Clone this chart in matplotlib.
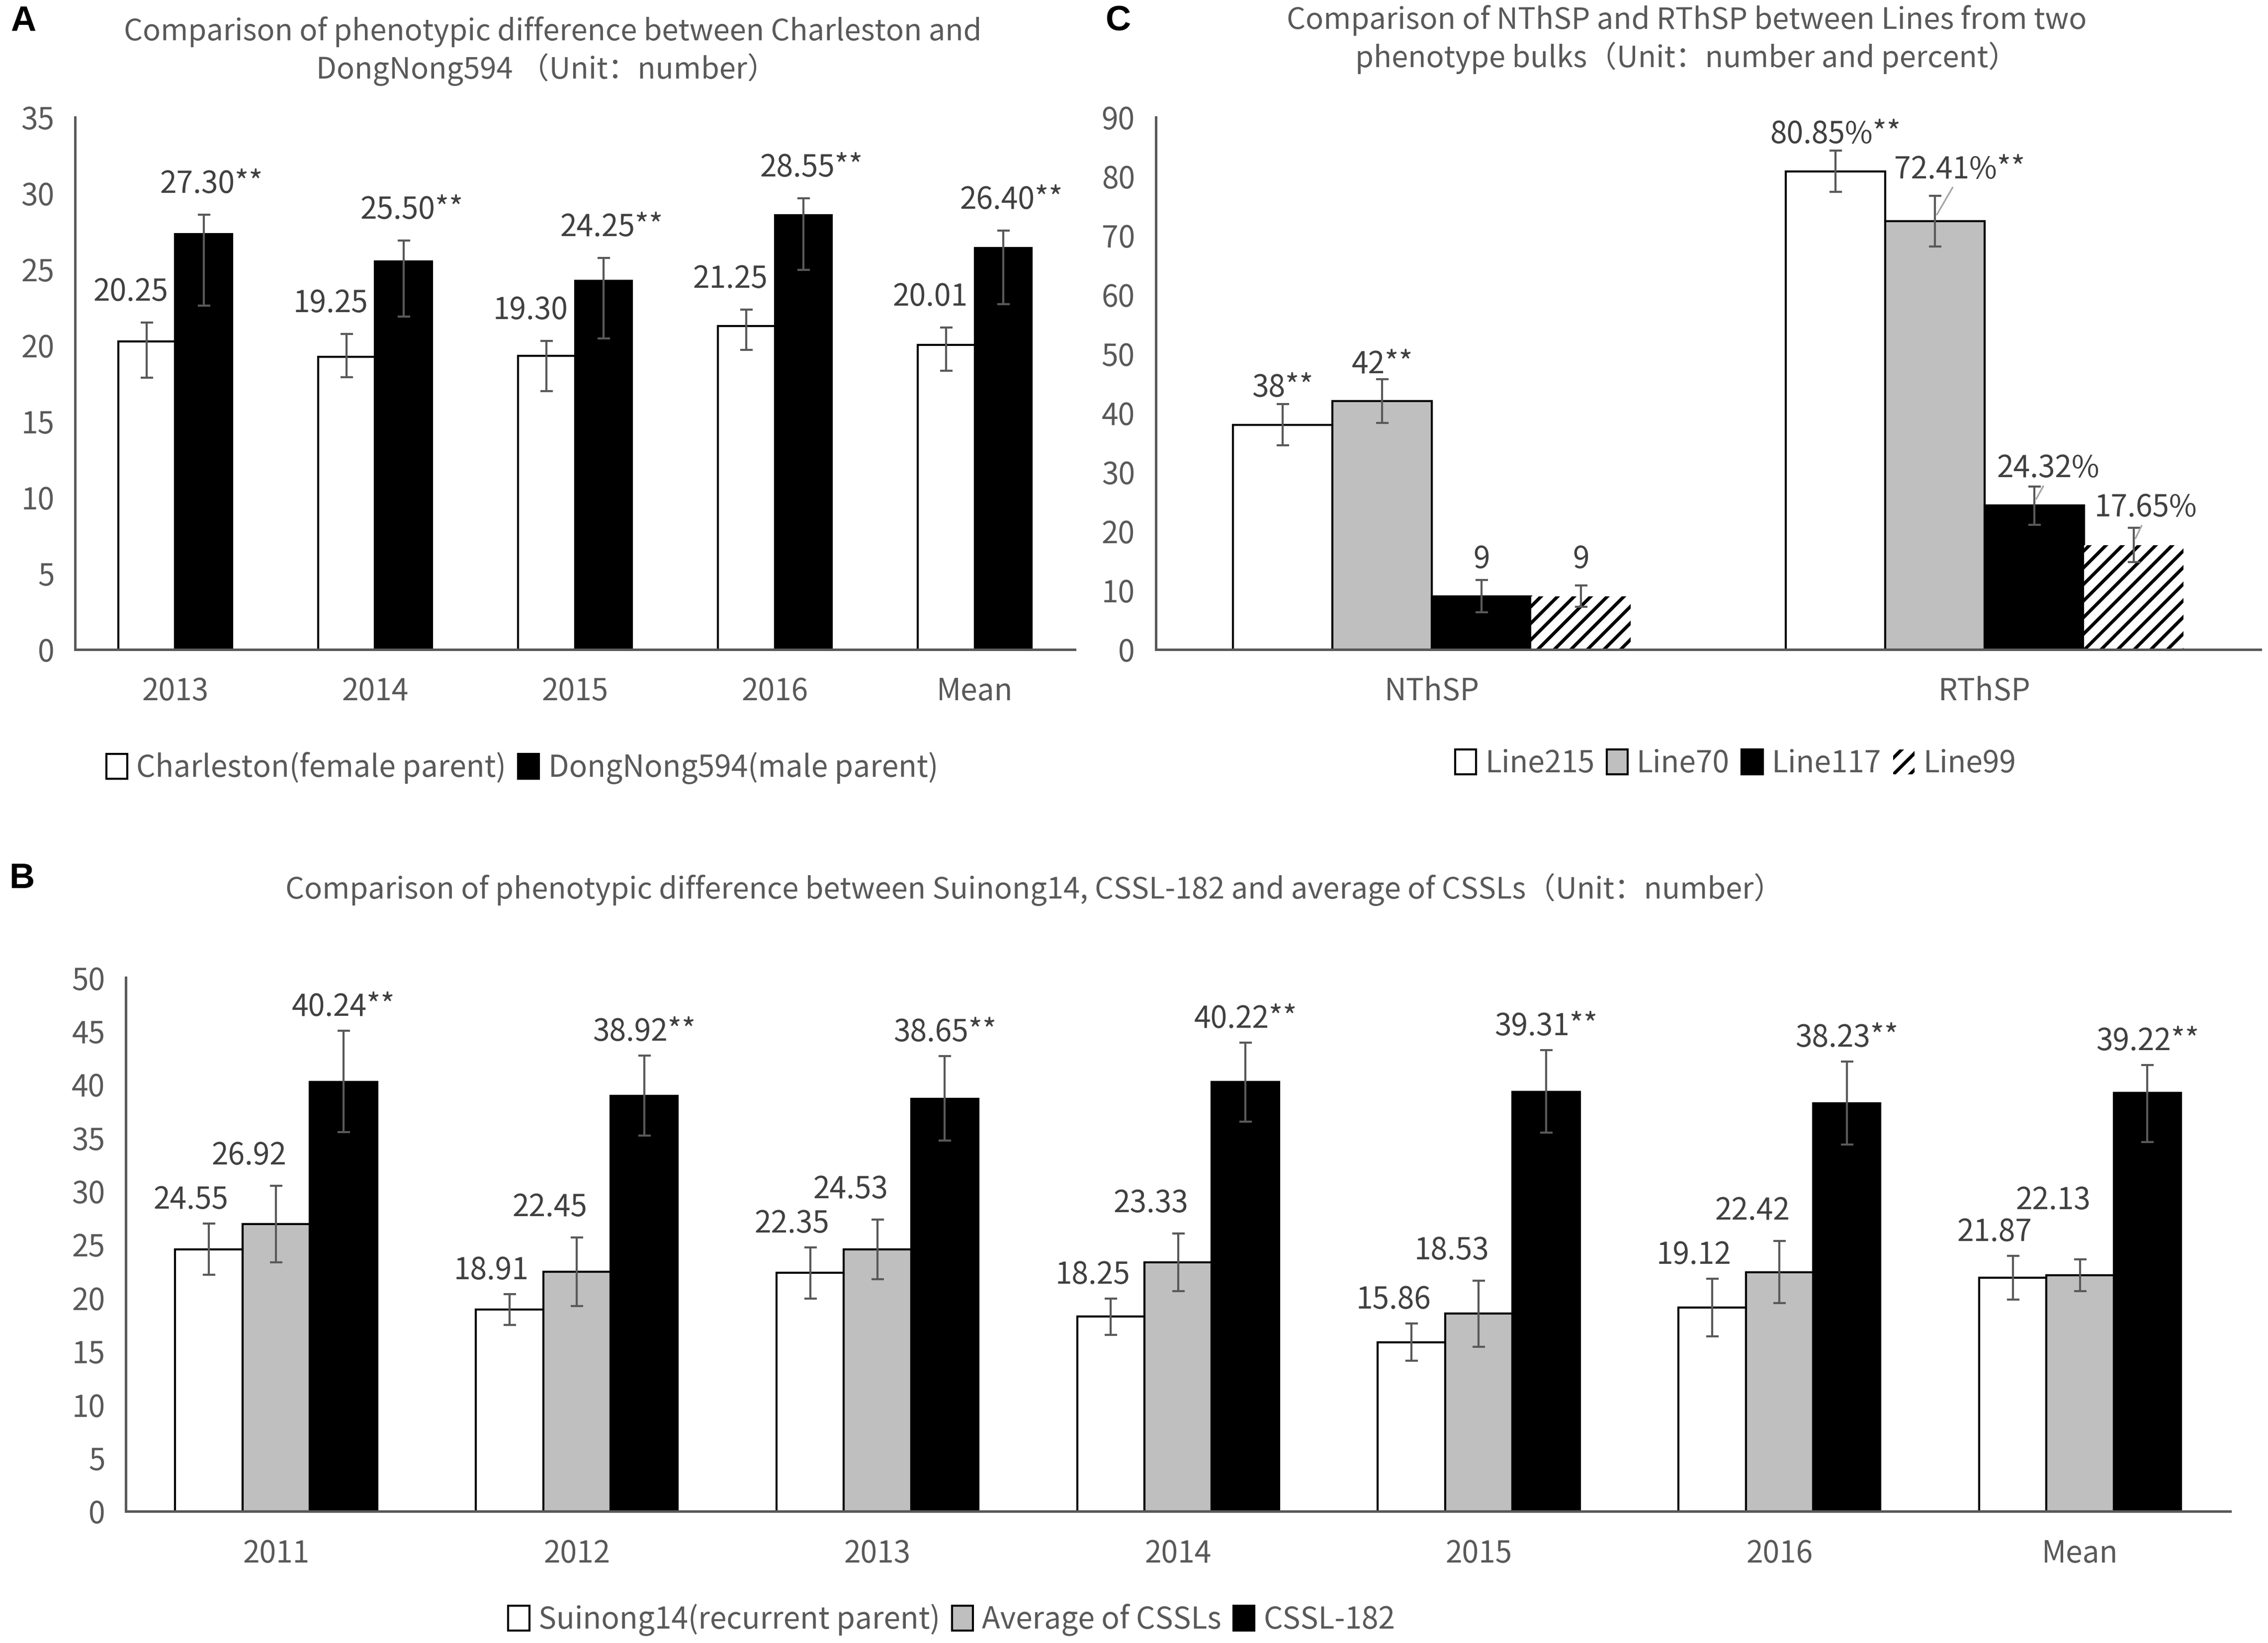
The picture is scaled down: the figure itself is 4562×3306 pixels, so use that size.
import numpy as np
import matplotlib.pyplot as plt

plt.rcParams['font.family'] = ['Noto Sans CJK SC', 'DejaVu Sans']
plt.rcParams['hatch.linewidth'] = 1.6

# ---------------- data ----------------
# panel A
a_years = ["2013", "2014", "2015", "2016", "Mean"]
a_charleston = [20.25, 19.25, 19.30, 21.25, 20.01]
a_charleston_lo = [2.4, 1.35, 2.3, 1.55, 1.7]
a_charleston_hi = [1.25, 1.5, 1.0, 1.1, 1.15]
a_dongnong = [27.30, 25.50, 24.25, 28.55, 26.40]
a_dongnong_lo = [4.7, 3.6, 3.8, 3.6, 3.7]
a_dongnong_hi = [1.3, 1.4, 1.5, 1.1, 1.15]
a_names = ["Charleston(female parent)", "DongNong594(male parent)"]

# panel C
c_traits = ["NThSP", "RThSP"]
c_lines = ["Line215", "Line70", "Line117", "Line99"]
c_line215 = [38, 80.85]
c_line70 = [42, 72.41]
c_line117 = [9, 24.32]
c_line99 = [9, 17.65]
c_line215_err = [3.5, 3.5]
c_line70_err = [3.7, 4.3]
c_line117_err = [2.7, 3.25]
c_line99_err = [1.8, 2.9]

# panel B
b_years = ["2011", "2012", "2013", "2014", "2015", "2016", "Mean"]
b_suinong = [24.55, 18.91, 22.35, 18.25, 15.86, 19.12, 21.87]
b_suinong_err = [2.4, 1.45, 2.4, 1.7, 1.75, 2.7, 2.05]
b_cssls = [26.92, 22.45, 24.53, 23.33, 18.53, 22.42, 22.13]
b_cssls_err = [3.6, 3.2, 2.8, 2.7, 3.1, 2.9, 1.5]
b_cssl182 = [40.24, 38.92, 38.65, 40.22, 39.31, 38.23, 39.22]
b_cssl182_lo = [4.7, 3.7, 3.9, 3.7, 3.8, 3.85, 4.6]
b_cssl182_hi = [4.8, 3.8, 4.0, 3.7, 3.9, 3.9, 2.6]
b_names = ["Suinong14(recurrent parent)", "Average of CSSLs", "CSSL-182"]

# ---------------- styling ----------------
TXT = '#595959'
LBL = '#404040'
FS = 14.5
GREY = '#bfbfbf'
W, H = 1568, 1136  # layout grid (reference pixels)


def box(left, right, top, bottom):
    return [left / W, 1 - bottom / H, (right - left) / W, (bottom - top) / H]


def style_axis(ax, cats, ymax, step):
    ax.set_xlim(-0.5, len(cats) - 0.5)
    ax.set_ylim(0, ymax)
    ax.set_yticks(np.arange(0, ymax + 1, step))
    ax.set_xticks(range(len(cats)))
    ax.set_xticklabels(cats)
    for s in ['top', 'right']:
        ax.spines[s].set_visible(False)
    for s in ['left', 'bottom']:
        ax.spines[s].set_color(TXT)
        ax.spines[s].set_linewidth(1.2)
    ax.spines['bottom'].set_zorder(5)
    ax.tick_params(length=0, labelsize=FS, colors=TXT)
    ax.tick_params(axis='y', pad=10)
    ax.tick_params(axis='x', pad=13)


def bars(ax, x, vals, w, lo, hi, face, label, hatch=None, lw=1.0):
    ax.bar(x, vals, w, color=face, edgecolor='black', linewidth=lw,
           hatch=hatch, label=label, zorder=2,
           yerr=[lo, hi],
           error_kw=dict(ecolor=TXT, elinewidth=1.0, capsize=3, capthick=1.0, zorder=3))


def value_label(ax, x, y, s):
    ax.text(x, y, s, ha='center', va='center', fontsize=FS, color=LBL, zorder=4)


fig = plt.figure(figsize=(4562 / 300, 3306 / 300), dpi=300)

# ---------------- panel A ----------------
axA = fig.add_axes(box(52, 743, 81, 449))
xa = np.arange(len(a_years))
wa = 0.285
bars(axA, xa - wa / 2, a_charleston, wa, a_charleston_lo, a_charleston_hi, 'white', a_names[0])
bars(axA, xa + wa / 2, a_dongnong, wa, a_dongnong_lo, a_dongnong_hi, 'black', a_names[1])
for i in range(len(a_years)):
    value_label(axA, xa[i] - wa / 2 - 0.08, a_charleston[i] + a_charleston_hi[i] + 2.0,
                f"{a_charleston[i]:.2f}")
    value_label(axA, xa[i] + wa / 2 + 0.04, a_dongnong[i] + a_dongnong_hi[i] + 2.0,
                f"{a_dongnong[i]:.2f}**")
style_axis(axA, a_years, 35, 5)
h, l = axA.get_legend_handles_labels()
fig.legend(h, l, loc='center', bbox_to_anchor=(361 / W, 1 - 531 / H), ncol=2,
           frameon=False, fontsize=FS, labelcolor=TXT, handlelength=0.7,
           handleheight=0.9, handletextpad=0.3, columnspacing=0.4)

# ---------------- panel C ----------------
axC = fig.add_axes(box(799, 1563, 81, 449))
xc = np.arange(len(c_traits))
wc = 0.18
c_vals = [c_line215, c_line70, c_line117, c_line99]
c_errs = [c_line215_err, c_line70_err, c_line117_err, c_line99_err]
c_faces = ['white', GREY, 'black', 'white']
c_hatch = [None, None, None, '///']
c_edge = [1.0, 1.0, 1.0, 0.0]
c_stars = ["**", "**", "", ""]
c_fmt = ["{:.0f}", "{:.2f}%"]
# manual nudges of crowded labels (dx in category units, dy in data units)
c_nudge = {(1, 1): (0.045, 2.5), (1, 2): (0.025, 0.1), (1, 3): (0.022, 0.1)}
for k in range(4):
    xk = xc + (k - 1.5) * wc
    bars(axC, xk, c_vals[k], wc, c_errs[k], c_errs[k], c_faces[k], c_lines[k],
         c_hatch[k], c_edge[k])
    for j in range(len(c_traits)):
        dx, dy = c_nudge.get((j, k), (0, 0))
        ly = c_vals[k][j] + 6.2 + dy
        value_label(axC, xk[j] + dx, ly, c_fmt[j].format(c_vals[k][j]) + c_stars[k])
        if (j, k) in c_nudge:
            axC.annotate('', xy=(xk[j], c_vals[k][j] + 0.5),
                         xytext=(xk[j] + dx * 0.8, ly - 2.4),
                         arrowprops=dict(arrowstyle='-', color='#a6a6a6', lw=0.8),
                         zorder=4)
style_axis(axC, c_traits, 90, 10)
h, l = axC.get_legend_handles_labels()
fig.legend(h, l, loc='center', bbox_to_anchor=(1200 / W, 1 - 528 / H), ncol=4,
           frameon=False, fontsize=FS, labelcolor=TXT, handlelength=0.7,
           handleheight=0.9, handletextpad=0.3, columnspacing=0.4)

# ---------------- panel B ----------------
axB = fig.add_axes(box(87, 1542, 676, 1045))
xb = np.arange(len(b_years))
wb = 0.224
bars(axB, xb - wb, b_suinong, wb, b_suinong_err, b_suinong_err, 'white', b_names[0])
bars(axB, xb, b_cssls, wb, b_cssls_err, b_cssls_err, GREY, b_names[1])
bars(axB, xb + wb, b_cssl182, wb, b_cssl182_lo, b_cssl182_hi, 'black', b_names[2])
for i in range(len(b_years)):
    y_white = b_suinong[i] + b_suinong_err[i] + 2.2
    y_grey = max(b_cssls[i] + b_cssls_err[i] + 2.8, y_white + 3.0)
    value_label(axB, xb[i] - wb - 0.06, y_white, f"{b_suinong[i]:.2f}")
    value_label(axB, xb[i] - 0.09, y_grey, f"{b_cssls[i]:.2f}")
    value_label(axB, xb[i] + wb, b_cssl182[i] + b_cssl182_hi[i] + 2.2, f"{b_cssl182[i]:.2f}**")
style_axis(axB, b_years, 50, 5)
h, l = axB.get_legend_handles_labels()
fig.legend(h, l, loc='center', bbox_to_anchor=(658 / W, 1 - 1120 / H), ncol=3,
           frameon=False, fontsize=FS, labelcolor=TXT, handlelength=0.7,
           handleheight=0.9, handletextpad=0.3, columnspacing=0.4)

# ---------------- titles and panel letters ----------------
TFS = 14.3
fig.text(382 / W, 1 - 22 / H, "Comparison of phenotypic difference between Charleston and",
         ha='center', va='center', fontsize=TFS, color=TXT)
fig.text(378 / W, 1 - 48 / H, "DongNong594 （Unit：number）",
         ha='center', va='center', fontsize=TFS, color=TXT)
fig.text(1166 / W, 1 - 14 / H, "Comparison of NThSP and RThSP between Lines from two",
         ha='center', va='center', fontsize=TFS, color=TXT)
fig.text(1166 / W, 1 - 40 / H, "phenotype bulks（Unit：number and percent）",
         ha='center', va='center', fontsize=TFS, color=TXT)
fig.text(715 / W, 1 - 615 / H,
         "Comparison of phenotypic difference between Suinong14, CSSL-182 and average of CSSLs（Unit：number）",
         ha='center', va='center', fontsize=TFS, color=TXT)

for letter, lx, ly in [("A", 16, 15), ("C", 773, 15), ("B", 15, 608)]:
    fig.text(lx / W, 1 - ly / H, letter, ha='center', va='center', fontsize=17,
             fontweight='bold', family='Liberation Sans', color='black')

fig.savefig("out.png", dpi=300)
